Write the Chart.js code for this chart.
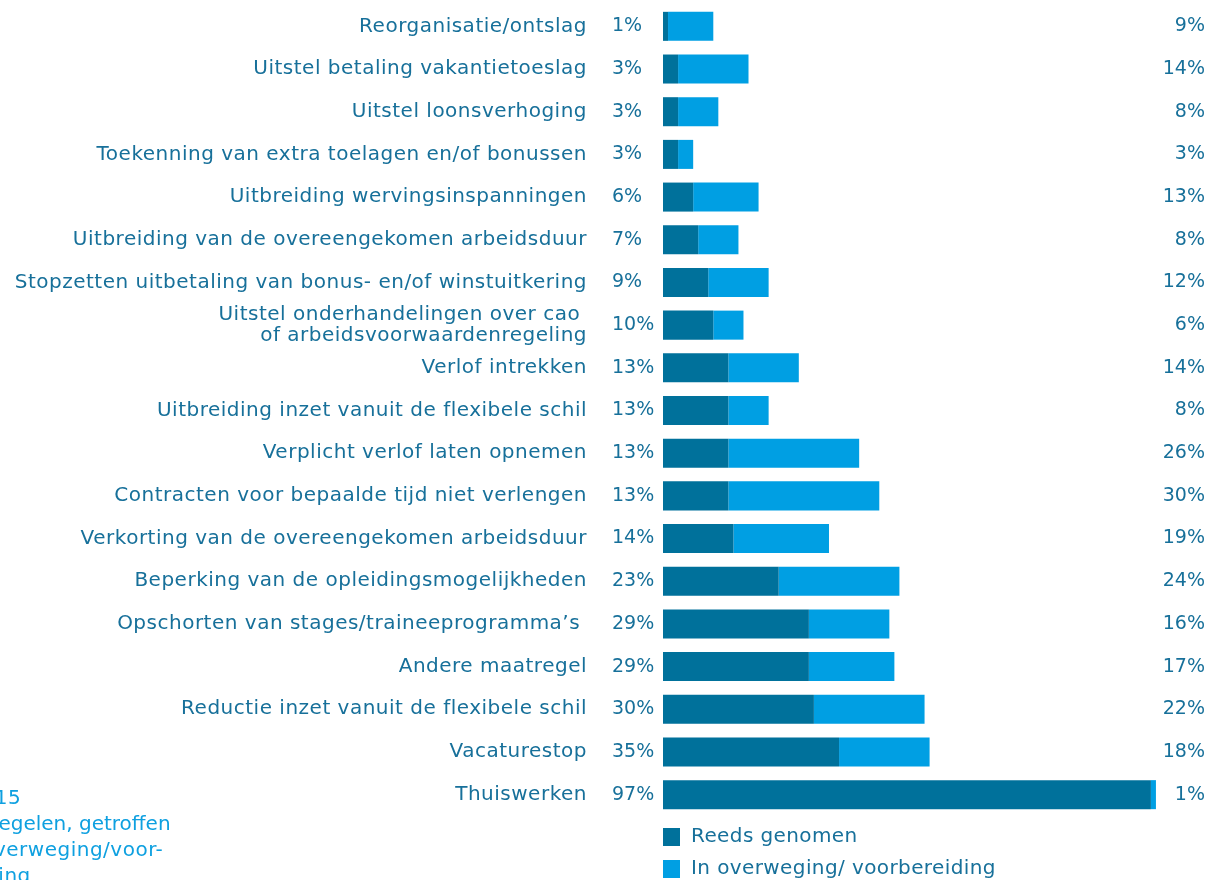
<!DOCTYPE html>
<html lang="nl">
<head>
<meta charset="utf-8">
<script src="https://cdn.jsdelivr.net/npm/chart.js@4"></script>
<style>
  html, body { margin: 0; padding: 0; background: #ffffff; }
  #wrap { position: relative; width: 1208px; height: 880px; overflow: hidden; }
  #caption {
    position: absolute; left: -72px; top: 784px;
    font-family: "DejaVu Sans", sans-serif; font-size: 20px; line-height: 26px;
    letter-spacing: 0.5px; color: #0ea0e0; white-space: nowrap;
  }
  #caption span { display: block; }
</style>
</head>
<body>
<div id="wrap">
  <canvas id="chart" width="1208" height="880"></canvas>
  <div id="caption">
    <span style="margin-left:-5px">Figuur 15</span>
    <span style="margin-left:13px; letter-spacing:0">Maatregelen, getroffen</span>
    <span>of in overweging/voor-</span>
    <span style="margin-left:4px">bereiding</span>
  </div>
</div>
<script>
// Maatregelen: aandeel organisaties (%)
const categories = [
  "Reorganisatie/ontslag",
  "Uitstel betaling vakantietoeslag",
  "Uitstel loonsverhoging",
  "Toekenning van extra toelagen en/of bonussen",
  "Uitbreiding wervingsinspanningen",
  "Uitbreiding van de overeengekomen arbeidsduur",
  "Stopzetten uitbetaling van bonus- en/of winstuitkering",
  ["Uitstel onderhandelingen over cao ", "of arbeidsvoorwaardenregeling"],
  "Verlof intrekken",
  "Uitbreiding inzet vanuit de flexibele schil",
  "Verplicht verlof laten opnemen",
  "Contracten voor bepaalde tijd niet verlengen",
  "Verkorting van de overeengekomen arbeidsduur",
  "Beperking van de opleidingsmogelijkheden",
  "Opschorten van stages/traineeprogramma\u2019s ",
  "Andere maatregel",
  "Reductie inzet vanuit de flexibele schil",
  "Vacaturestop",
  "Thuiswerken"
];
const reedsGenomen = [1, 3, 3, 3, 6, 7, 9, 10, 13, 13, 13, 13, 14, 23, 29, 29, 30, 35, 97];
const inOverweging = [9, 14, 8, 3, 13, 8, 12, 6, 14, 8, 26, 30, 19, 24, 16, 17, 22, 18, 1];
const seriesNames = ["Reeds genomen", "In overweging/ voorbereiding"];

const DARK = "#00719b";
const LIGHT = "#009fe3";
const TEXT = "#17709a";
const FONT = '"DejaVu Sans", sans-serif';

// Slightly tracked-out category labels on the y axis
const labelTracking = {
  id: "labelTracking",
  beforeDraw(chart) { chart.ctx.letterSpacing = "0.5px"; },
  beforeDatasetsDraw(chart) { chart.ctx.letterSpacing = "0px"; }
};

// Percentages left and right of every bar, plus the stacked legend below
const valueLabels = {
  id: "valueLabels",
  afterDatasetsDraw(chart) {
    const ctx = chart.ctx;
    const m0 = chart.getDatasetMeta(0);
    ctx.save();
    ctx.font = "19px " + FONT;
    ctx.fillStyle = TEXT;
    ctx.textBaseline = "middle";
    m0.data.forEach((bar, i) => {
      ctx.textAlign = "left";
      ctx.fillText(chart.data.datasets[0].data[i] + "%", 612, bar.y);
      ctx.textAlign = "right";
      ctx.fillText(chart.data.datasets[1].data[i] + "%", 1205, bar.y);
    });
    // legend
    const left = chart.chartArea.left;
    ctx.font = "20px " + FONT;
    ctx.letterSpacing = "0.4px";
    chart.data.datasets.forEach((ds, k) => {
      const cy = 837 + k * 32;
      ctx.fillStyle = ds.backgroundColor;
      ctx.fillRect(left, cy - 9, 17, 18);
      ctx.fillStyle = TEXT;
      ctx.textAlign = "left";
      ctx.fillText(ds.label, left + 28, cy);
    });
    ctx.letterSpacing = "0px";
    ctx.restore();
  }
};

new Chart(document.getElementById("chart"), {
  type: "bar",
  data: {
    labels: categories,
    datasets: [
      { label: seriesNames[0], data: reedsGenomen, backgroundColor: DARK },
      { label: seriesNames[1], data: inOverweging, backgroundColor: LIGHT }
    ]
  },
  options: {
    indexAxis: "y",
    responsive: false,
    devicePixelRatio: 1,
    animation: false,
    layout: { padding: { top: 5, bottom: 64, left: 0, right: 42 } },
    datasets: { bar: { categoryPercentage: 1, barPercentage: 0.68 } },
    plugins: { legend: { display: false }, tooltip: { enabled: false } },
    scales: {
      x: { stacked: true, min: 0, max: 100, display: false },
      y: {
        stacked: true,
        grid: { display: false },
        border: { display: false },
        afterFit(scale) {
          scale.width = 663;
          scale.paddingTop = 0;
          scale.paddingBottom = 0;
        },
        ticks: {
          autoSkip: false,
          padding: 68,
          color: TEXT,
          font: { family: FONT, size: 20, lineHeight: 1.05 }
        }
      }
    }
  },
  plugins: [labelTracking, valueLabels]
});
</script>
</body>
</html>
